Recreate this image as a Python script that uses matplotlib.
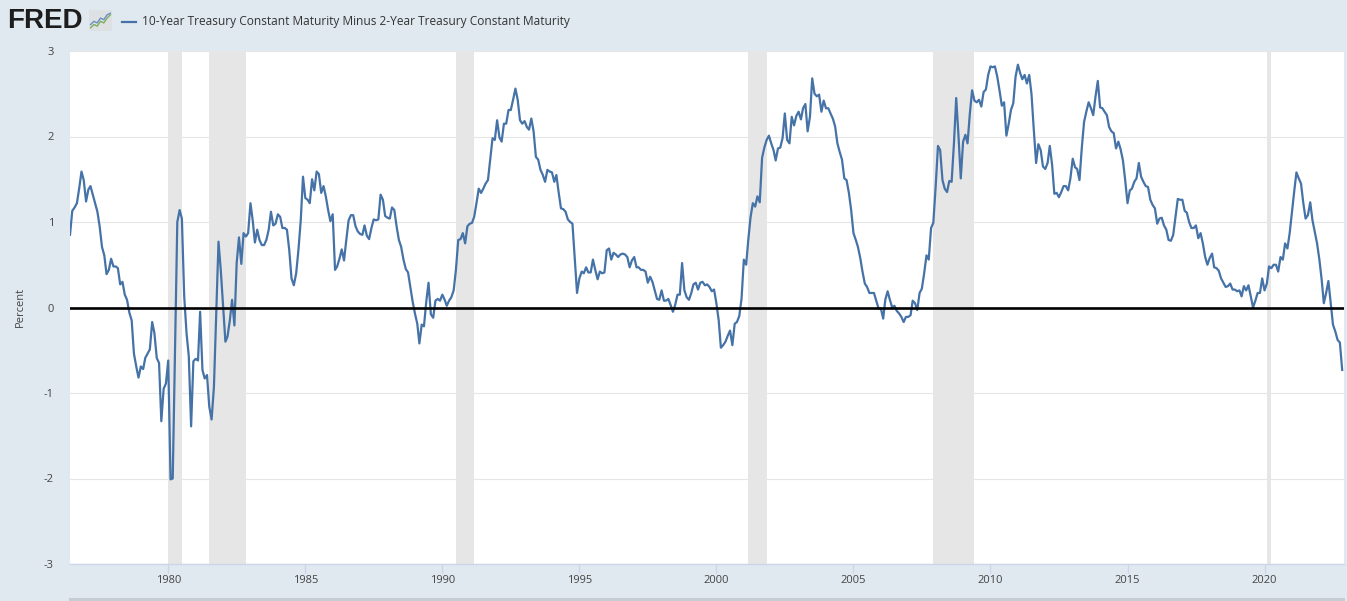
import pandas as pd
import matplotlib
matplotlib.use('Agg')
import matplotlib.pyplot as plt
from matplotlib.lines import Line2D
from matplotlib.patches import Rectangle

# monthly 10y-2y spread, starting June 1976
start_month = '1976-06-01'
spread = [
    0.85, 1.13, 1.17, 1.22, 1.39, 1.59, 1.49,                            # 1976 Jun-Dec
    1.24, 1.38, 1.42, 1.32, 1.22, 1.12, 0.95, 0.71, 0.61, 0.39, 0.44, 0.57,  # 1977
    0.48, 0.48, 0.46, 0.27, 0.30, 0.15, 0.09, -0.06, -0.15, -0.54, -0.69, -0.82,
    -0.69, -0.72, -0.59, -0.54, -0.49, -0.17, -0.30, -0.59, -0.65, -1.33, -0.95, -0.89,
    -0.62, -2.01, -2.00, -0.50, 1.00, 1.14, 1.04, 0.13, -0.30, -0.57, -1.39, -0.63,  # 1980
    -0.60, -0.62, -0.05, -0.73, -0.83, -0.79, -1.16, -1.31, -0.93, -0.10, 0.77, 0.44,
    0.01, -0.40, -0.34, -0.15, 0.09, -0.21, 0.52, 0.82, 0.51, 0.87, 0.83, 0.87,
    1.22, 1.01, 0.76, 0.91, 0.79, 0.73, 0.73, 0.79, 0.91, 1.12, 0.96, 0.98,
    1.09, 1.06, 0.93, 0.93, 0.91, 0.67, 0.34, 0.26, 0.40, 0.67, 1.02, 1.53,
    1.28, 1.26, 1.22, 1.50, 1.37, 1.59, 1.56, 1.34, 1.42, 1.30, 1.14, 1.01,  # 1985
    1.09, 0.44, 0.48, 0.57, 0.68, 0.55, 0.79, 1.02, 1.08, 1.08, 0.95, 0.89,
    0.86, 0.85, 0.96, 0.84, 0.80, 0.93, 1.03, 1.02, 1.03, 1.32, 1.26, 1.07,
    1.05, 1.04, 1.17, 1.14, 0.95, 0.79, 0.71, 0.56, 0.45, 0.41, 0.24, 0.07,
    -0.07, -0.19, -0.42, -0.20, -0.22, 0.07, 0.29, -0.08, -0.12, 0.08, 0.10, 0.08,
    0.15, 0.09, 0.02, 0.08, 0.12, 0.20, 0.44, 0.79, 0.80, 0.87, 0.75, 0.95,  # 1990
    0.98, 0.99, 1.06, 1.22, 1.39, 1.34, 1.39, 1.45, 1.49, 1.73, 1.98, 1.96,
    2.19, 1.99, 1.94, 2.15, 2.15, 2.31, 2.31, 2.43, 2.56, 2.43, 2.19, 2.15,
    2.18, 2.11, 2.08, 2.21, 2.06, 1.76, 1.73, 1.61, 1.55, 1.47, 1.61, 1.59,
    1.58, 1.47, 1.55, 1.34, 1.16, 1.15, 1.12, 1.03, 1.00, 0.98, 0.56, 0.17,
    0.34, 0.42, 0.40, 0.47, 0.41, 0.41, 0.56, 0.44, 0.33, 0.42, 0.40, 0.41,  # 1995
    0.67, 0.69, 0.56, 0.64, 0.62, 0.59, 0.62, 0.63, 0.62, 0.59, 0.47, 0.55,
    0.59, 0.47, 0.47, 0.44, 0.44, 0.42, 0.29, 0.36, 0.30, 0.20, 0.10, 0.09,
    0.20, 0.08, 0.08, 0.10, 0.03, -0.05, 0.03, 0.15, 0.15, 0.52, 0.20, 0.12,
    0.09, 0.17, 0.27, 0.29, 0.21, 0.29, 0.30, 0.26, 0.27, 0.24, 0.19, 0.21,
    0.05, -0.15, -0.47, -0.44, -0.40, -0.33, -0.27, -0.44, -0.19, -0.17, -0.10, 0.10,  # 2000
    0.56, 0.50, 0.79, 1.06, 1.22, 1.18, 1.30, 1.23, 1.75, 1.87, 1.96, 2.01,
    1.92, 1.84, 1.72, 1.86, 1.87, 1.98, 2.27, 1.96, 1.92, 2.23, 2.13, 2.24,
    2.29, 2.20, 2.33, 2.38, 2.06, 2.23, 2.68, 2.50, 2.47, 2.49, 2.29, 2.42,
    2.33, 2.33, 2.27, 2.21, 2.12, 1.92, 1.82, 1.73, 1.51, 1.49, 1.34, 1.14,
    0.87, 0.79, 0.71, 0.58, 0.42, 0.28, 0.24, 0.17, 0.17, 0.17, 0.08, -0.01,  # 2005
    -0.01, -0.13, 0.09, 0.19, 0.09, 0.00, 0.02, -0.04, -0.07, -0.11, -0.17, -0.11,
    -0.11, -0.09, 0.08, 0.05, -0.03, 0.17, 0.22, 0.40, 0.61, 0.56, 0.93, 0.99,
    1.41, 1.89, 1.84, 1.49, 1.39, 1.35, 1.48, 1.47, 1.92, 2.45, 2.00, 1.51,
    1.94, 2.02, 1.92, 2.27, 2.54, 2.42, 2.40, 2.43, 2.35, 2.52, 2.55, 2.72,
    2.82, 2.81, 2.82, 2.70, 2.54, 2.36, 2.40, 2.01, 2.15, 2.31, 2.39, 2.70,  # 2010
    2.84, 2.74, 2.67, 2.72, 2.62, 2.72, 2.50, 2.08, 1.69, 1.91, 1.84, 1.65,
    1.62, 1.69, 1.89, 1.67, 1.33, 1.34, 1.29, 1.35, 1.42, 1.42, 1.37, 1.51,
    1.74, 1.64, 1.62, 1.49, 1.86, 2.17, 2.29, 2.40, 2.33, 2.25, 2.47, 2.65,
    2.34, 2.33, 2.29, 2.25, 2.11, 2.06, 2.04, 1.86, 1.94, 1.85, 1.72, 1.49,
    1.22, 1.37, 1.39, 1.47, 1.51, 1.69, 1.53, 1.47, 1.42, 1.41, 1.26, 1.20,  # 2015
    1.16, 0.98, 1.04, 1.05, 0.96, 0.91, 0.79, 0.78, 0.85, 1.06, 1.27, 1.26,
    1.26, 1.13, 1.11, 1.00, 0.93, 0.93, 0.96, 0.81, 0.87, 0.75, 0.59, 0.50,
    0.58, 0.63, 0.47, 0.46, 0.43, 0.34, 0.29, 0.24, 0.25, 0.28, 0.21, 0.21,
    0.19, 0.20, 0.13, 0.25, 0.20, 0.26, 0.13, 0.00, 0.08, 0.17, 0.17, 0.34,
    0.20, 0.28, 0.48, 0.46, 0.50, 0.50, 0.42, 0.59, 0.56, 0.75, 0.69, 0.87,  # 2020
    1.12, 1.37, 1.58, 1.51, 1.45, 1.22, 1.04, 1.08, 1.23, 1.02, 0.88, 0.75,
    0.56, 0.32, 0.05, 0.17, 0.31, 0.05, -0.20, -0.28, -0.38, -0.41, -0.73,   # 2022 Jan-Nov
]

recession_starts = ['1980-01-01', '1981-07-01', '1990-07-01', '2001-03-01', '2007-12-01', '2020-02-01']
recession_ends = ['1980-07-01', '1982-11-01', '1991-03-01', '2001-11-01', '2009-06-01', '2020-04-01']

year_ticks = [1980, 1985, 1990, 1995, 2000, 2005, 2010, 2015, 2020]
y_ticks = [-3, -2, -1, 0, 1, 2, 3]

series_name = '10-Year Treasury Constant Maturity Minus 2-Year Treasury Constant Maturity'

line_color = '#4572a7'
bg = '#e1e9f0'
W, H = 1347, 601

plt.rcParams['font.family'] = ['Open Sans', 'DejaVu Sans']

dates = pd.date_range(start_month, periods=len(spread), freq='MS')
s = pd.Series(spread, index=dates)

fig = plt.figure(figsize=(W / 100, H / 100), dpi=100, facecolor=bg)
ax = fig.add_axes([70 / W, 37 / H, 1274 / W, 513 / H])
ax.set_facecolor('white')

for st, en in zip(recession_starts, recession_ends):
    ax.axvspan(pd.Timestamp(st), pd.Timestamp(en), color='#e6e6e6', lw=0, zorder=1)

ax.plot(s.index, s.values, color=line_color, lw=1.6, zorder=3)
ax.axhline(0, color='black', lw=1.9, zorder=4)

ax.set_ylim(-3, 3)
ax.set_xlim(pd.Timestamp('1976-06-01'), pd.Timestamp('2022-11-25'))
ax.set_yticks(y_ticks)
ax.set_yticklabels([str(v) for v in y_ticks])
ax.set_xticks([pd.Timestamp(f'{y}-01-01') for y in year_ticks])
ax.set_xticklabels([str(y) for y in year_ticks])
ax.yaxis.grid(True, color='#e6e6e6', lw=0.8, zorder=0)
ax.set_axisbelow(True)

ax.tick_params(axis='x', length=6.5, width=1, color='#ccd6eb', labelsize=8, labelcolor='#444444', pad=1.5)
ax.tick_params(axis='y', length=0, labelsize=8, labelcolor='#444444', pad=11.5)
for side in ['top', 'right', 'left']:
    ax.spines[side].set_visible(False)
ax.spines['bottom'].set_color('#ccd6eb')
ax.spines['bottom'].set_linewidth(1)

fig.text(20 / W, 1 - 307 / H, 'Percent', rotation=90, ha='center', va='center',
         fontsize=8, color='#444444')

# header: FRED logo + legend
fig.text(7 / W, 1 - 21.5 / H, 'FRED', fontsize=20, fontweight='bold', family='Liberation Sans',
         color='#1d1d1d', va='center', ha='left')
icon = fig.add_axes([89 / W, 1 - 31 / H, 23 / W, 21 / H])
icon.plot([0, 1, 2, 3, 4, 5, 6], [1, 2, 1.5, 3, 2.5, 4, 5], color='#7fae5a', lw=1)
icon.plot([0, 1, 2, 3, 4, 5, 6], [2, 3, 2.5, 4, 3.5, 5, 5.5], color='#6a8fbf', lw=1)
icon.set_xlim(-0.5, 6.5)
icon.set_ylim(0, 6.5)
icon.axis('off')
icon.add_patch(Rectangle((-0.5, 0), 7, 6.5, color='#dde1e4', zorder=0))

fig.add_artist(Line2D([122 / W, 136 / W], [1 - 21.5 / H] * 2, color=line_color, lw=1.6))
fig.text(142 / W, 1 - 21.5 / H, series_name, fontsize=8.6, color='#333333', va='center', ha='left')

# navigator strip at bottom
fig.add_artist(Rectangle((69 / W, 0), 1276 / W, 3 / H, transform=fig.transFigure,
                         color='#c5ccd4', lw=0))

fig.savefig('out.png', dpi=100, facecolor=bg)
